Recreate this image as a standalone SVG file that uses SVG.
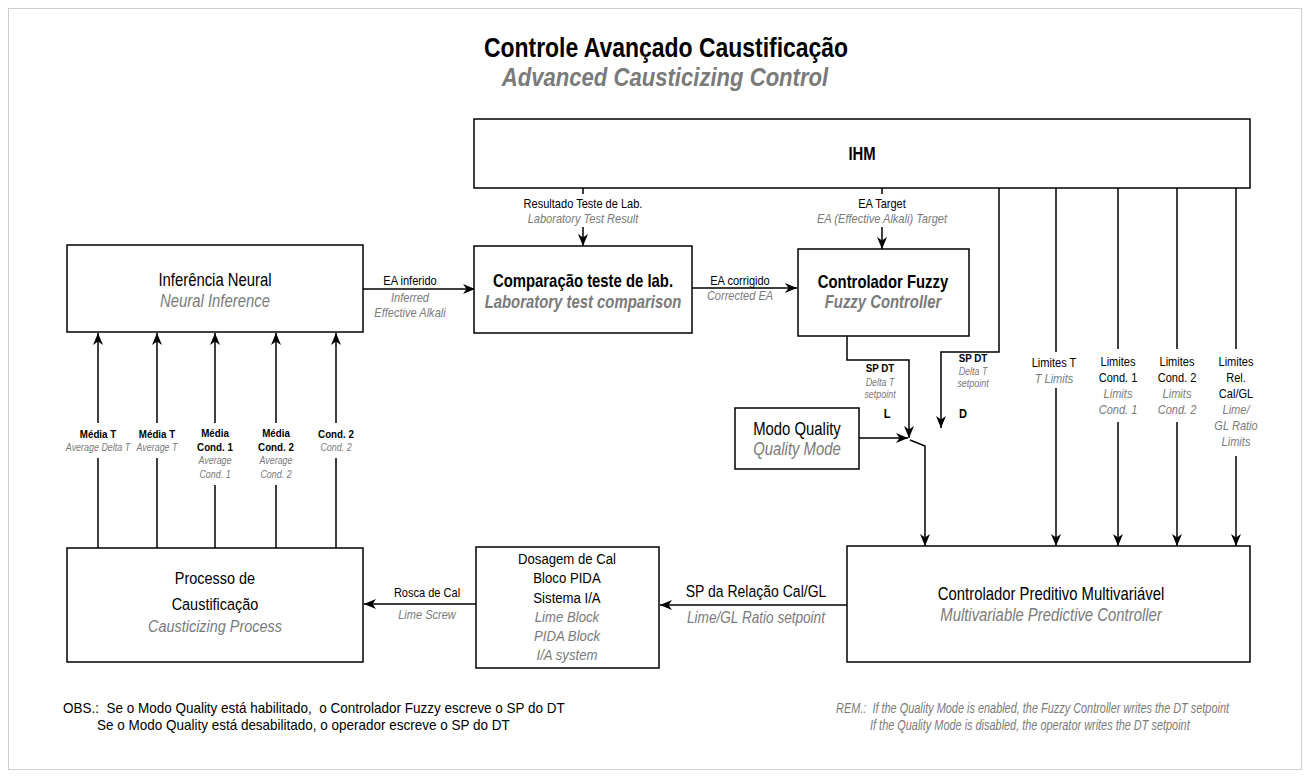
<svg xmlns="http://www.w3.org/2000/svg" width="1310" height="778" viewBox="0 0 1310 778">
<defs>
<marker id="ah" viewBox="0 0 12 10" refX="12" refY="5" markerWidth="12" markerHeight="10" markerUnits="userSpaceOnUse" orient="auto">
<path d="M0,0 L12,5 L0,10 L3.5,5 Z" fill="#000"/>
</marker>
<style>
.box{fill:#fff;stroke:#000;stroke-width:1.5}
.ln{fill:none;stroke:#000;stroke-width:1.5}
.ar{fill:none;stroke:#000;stroke-width:1.5;marker-end:url(#ah)}
text{font-family:'Liberation Sans',Arial,sans-serif;fill:#000;text-anchor:middle}
.g{fill:#7a7a7a;font-style:italic}
.bd{font-weight:bold}
.big{font-size:17.5px}
.mid{font-size:13px}
.sm{font-size:11.5px}
.si{font-size:10.5px}
.note{font-size:15px;text-anchor:start}
.rem{font-size:14px;text-anchor:start}
</style>
</defs>
<rect x="8.5" y="8.5" width="1293" height="761" fill="#fff" stroke="#cfcfcf" stroke-width="1"/>
<g id="title">
<text transform="matrix(.85 0 0 1 666 57)" class="bd" style="font-size:27px">Controle Avançado Caustificação</text>
<text transform="matrix(.85 0 0 1 665 86)" class="bd g" style="font-size:26px">Advanced Causticizing Control</text>
</g>
<g id="connectors">
<path class="ar" d="M363,289 H475"/>
<path class="ar" d="M692,288 H797"/>
<path class="ln" d="M583,188 V194"/>
<path class="ar" d="M583,227 V246"/>
<path class="ln" d="M882,188 V194"/>
<path class="ar" d="M882,227 V249"/>
<path class="ar" d="M847,336 V360 H909 V438"/>
<path class="ar" d="M999,188 V352 H941 V428"/>
<path class="ar" d="M859,438 H908"/>
<path class="ar" d="M910,440 L925,446 V546"/>
<path class="ln" d="M1056,188 V352"/>
<path class="ar" d="M1056,388 V546"/>
<path class="ln" d="M1118,188 V349"/>
<path class="ar" d="M1118,422 V546"/>
<path class="ln" d="M1177,188 V349"/>
<path class="ar" d="M1177,422 V546"/>
<path class="ln" d="M1236,188 V349"/>
<path class="ar" d="M1236,456 V546"/>
<path class="ar" d="M847,605 H660"/>
<path class="ar" d="M476,604 H364"/>
<path class="ln" d="M98,548 V458"/>
<path class="ar" d="M98,423 V333"/>
<path class="ln" d="M157,548 V458"/>
<path class="ar" d="M157,423 V333"/>
<path class="ln" d="M215,548 V485"/>
<path class="ar" d="M215,423 V333"/>
<path class="ln" d="M276,548 V485"/>
<path class="ar" d="M276,423 V333"/>
<path class="ln" d="M336,548 V458"/>
<path class="ar" d="M336,423 V333"/>
</g>
<g id="labels">
<text transform="matrix(.85 0 0 1 583 208)" class="mid">Resultado Teste de Lab.</text>
<text transform="matrix(.85 0 0 1 583 223)" class="mid g">Laboratory Test Result</text>
<text transform="matrix(.85 0 0 1 882 208)" class="mid">EA Target</text>
<text transform="matrix(.85 0 0 1 882 223)" class="mid g">EA (Effective Alkali) Target</text>
<text transform="matrix(.85 0 0 1 410 285)" class="mid">EA inferido</text>
<text transform="matrix(.85 0 0 1 410 302)" class="mid g">Inferred</text>
<text transform="matrix(.85 0 0 1 410 317)" class="mid g">Effective Alkali</text>
<text transform="matrix(.85 0 0 1 740 285)" class="mid">EA corrigido</text>
<text transform="matrix(.85 0 0 1 740 300)" class="mid g">Corrected EA</text>
<text transform="matrix(.85 0 0 1 880 372)" class="sm bd">SP DT</text>
<text transform="matrix(.85 0 0 1 880 386)" class="si g">Delta T</text>
<text transform="matrix(.85 0 0 1 880 398)" class="si g">setpoint</text>
<text transform="matrix(.85 0 0 1 887 418)" class="mid bd">L</text>
<text transform="matrix(.85 0 0 1 973 362)" class="sm bd">SP DT</text>
<text transform="matrix(.85 0 0 1 973 375)" class="si g">Delta T</text>
<text transform="matrix(.85 0 0 1 973 387)" class="si g">setpoint</text>
<text transform="matrix(.85 0 0 1 963 418)" class="mid bd">D</text>
<text transform="matrix(.85 0 0 1 1054 367)" class="mid">Limites T</text>
<text transform="matrix(.85 0 0 1 1054 383)" class="mid g">T Limits</text>
<text transform="matrix(.85 0 0 1 1118 366)" class="mid">Limites</text>
<text transform="matrix(.85 0 0 1 1118 382)" class="mid">Cond. 1</text>
<text transform="matrix(.85 0 0 1 1118 398)" class="mid g">Limits</text>
<text transform="matrix(.85 0 0 1 1118 414)" class="mid g">Cond. 1</text>
<text transform="matrix(.85 0 0 1 1177 366)" class="mid">Limites</text>
<text transform="matrix(.85 0 0 1 1177 382)" class="mid">Cond. 2</text>
<text transform="matrix(.85 0 0 1 1177 398)" class="mid g">Limits</text>
<text transform="matrix(.85 0 0 1 1177 414)" class="mid g">Cond. 2</text>
<text transform="matrix(.85 0 0 1 1236 366)" class="mid">Limites</text>
<text transform="matrix(.85 0 0 1 1236 382)" class="mid">Rel.</text>
<text transform="matrix(.85 0 0 1 1236 398)" class="mid">Cal/GL</text>
<text transform="matrix(.85 0 0 1 1236 414)" class="mid g">Lime/</text>
<text transform="matrix(.85 0 0 1 1236 430)" class="mid g">GL Ratio</text>
<text transform="matrix(.85 0 0 1 1236 446)" class="mid g">Limits</text>
<text transform="matrix(.85 0 0 1 98 438)" class="sm bd">Média T</text>
<text transform="matrix(.85 0 0 1 98 451)" class="si g">Average Delta T</text>
<text transform="matrix(.85 0 0 1 157 438)" class="sm bd">Média T</text>
<text transform="matrix(.85 0 0 1 157 451)" class="si g">Average T</text>
<text transform="matrix(.85 0 0 1 215 437)" class="sm bd">Média</text>
<text transform="matrix(.85 0 0 1 215 451)" class="sm bd">Cond. 1</text>
<text transform="matrix(.85 0 0 1 215 464)" class="si g">Average</text>
<text transform="matrix(.85 0 0 1 215 478)" class="si g">Cond. 1</text>
<text transform="matrix(.85 0 0 1 276 437)" class="sm bd">Média</text>
<text transform="matrix(.85 0 0 1 276 451)" class="sm bd">Cond. 2</text>
<text transform="matrix(.85 0 0 1 276 464)" class="si g">Average</text>
<text transform="matrix(.85 0 0 1 276 478)" class="si g">Cond. 2</text>
<text transform="matrix(.85 0 0 1 336 438)" class="sm bd">Cond. 2</text>
<text transform="matrix(.85 0 0 1 336 451)" class="si g">Cond. 2</text>
<text transform="matrix(.85 0 0 1 427 597)" class="mid">Rosca de Cal</text>
<text transform="matrix(.85 0 0 1 427 619)" class="mid g">Lime Screw</text>
<text transform="matrix(.85 0 0 1 756 597)" style="font-size:16.5px">SP da Relação Cal/GL</text>
<text transform="matrix(.85 0 0 1 756 623)" class="g" style="font-size:16px">Lime/GL Ratio setpoint</text>
</g>
<g id="ihm">
<rect class="box" x="474" y="119" width="776" height="69"/>
<text transform="matrix(.85 0 0 1 862 160)" class="big bd">IHM</text>
</g>
<g id="neural">
<rect class="box" x="67" y="245" width="296" height="87"/>
<text transform="matrix(.85 0 0 1 215 286)" class="big">Inferência Neural</text>
<text transform="matrix(.85 0 0 1 215 307)" class="big g">Neural Inference</text>
</g>
<g id="comparacao">
<rect class="box" x="474" y="246" width="218" height="87"/>
<text transform="matrix(.85 0 0 1 583 287)" class="big bd">Comparação teste de lab.</text>
<text transform="matrix(.85 0 0 1 583 308)" class="big bd g">Laboratory test comparison</text>
</g>
<g id="fuzzy">
<rect class="box" x="798" y="249" width="171" height="87"/>
<text transform="matrix(.85 0 0 1 883 288)" class="big bd">Controlador Fuzzy</text>
<text transform="matrix(.85 0 0 1 883 308)" class="big bd g">Fuzzy Controller</text>
</g>
<g id="modo">
<rect class="box" x="735" y="408" width="124" height="61"/>
<text transform="matrix(.85 0 0 1 797 435)" class="big">Modo Quality</text>
<text transform="matrix(.85 0 0 1 797 455)" class="big g">Quality Mode</text>
</g>
<g id="mpc">
<rect class="box" x="847" y="546" width="403" height="116"/>
<text transform="matrix(.85 0 0 1 1051 600)" class="big">Controlador Preditivo Multivariável</text>
<text transform="matrix(.85 0 0 1 1051 621)" class="big g">Multivariable Predictive Controller</text>
</g>
<g id="dosagem">
<rect class="box" x="476" y="547" width="183" height="121"/>
<text transform="matrix(.85 0 0 1 567 564)" style="font-size:15.5px">Dosagem de Cal</text>
<text transform="matrix(.85 0 0 1 567 583)" style="font-size:15.5px">Bloco PIDA</text>
<text transform="matrix(.85 0 0 1 567 603)" style="font-size:15.5px">Sistema I/A</text>
<text transform="matrix(.85 0 0 1 567 622)" class="g" style="font-size:15.5px">Lime Block</text>
<text transform="matrix(.85 0 0 1 567 641)" class="g" style="font-size:15.5px">PIDA Block</text>
<text transform="matrix(.85 0 0 1 567 660)" class="g" style="font-size:15.5px">I/A system</text>
</g>
<g id="processo">
<rect class="box" x="67" y="548" width="296" height="114"/>
<text transform="matrix(.85 0 0 1 215 584)" style="font-size:17px">Processo de</text>
<text transform="matrix(.85 0 0 1 215 610)" style="font-size:17px">Caustificação</text>
<text transform="matrix(.85 0 0 1 215 632)" class="g" style="font-size:17px">Causticizing Process</text>
</g>
<g id="notes">
<text transform="matrix(.9 0 0 1 63 713)" class="note" xml:space="preserve">OBS.:  Se o Modo Quality está habilitado,  o Controlador Fuzzy escreve o SP do DT</text>
<text transform="matrix(.9 0 0 1 97 730)" class="note">Se o Modo Quality está desabilitado, o operador escreve o SP do DT</text>
<text transform="matrix(.78 0 0 1 836 713)" class="rem g" xml:space="preserve">REM.:  If the Quality Mode is enabled, the Fuzzy Controller writes the DT setpoint</text>
<text transform="matrix(.78 0 0 1 870 730)" class="rem g">If the Quality Mode is disabled, the operator writes the DT setpoint</text>
</g>
</svg>
